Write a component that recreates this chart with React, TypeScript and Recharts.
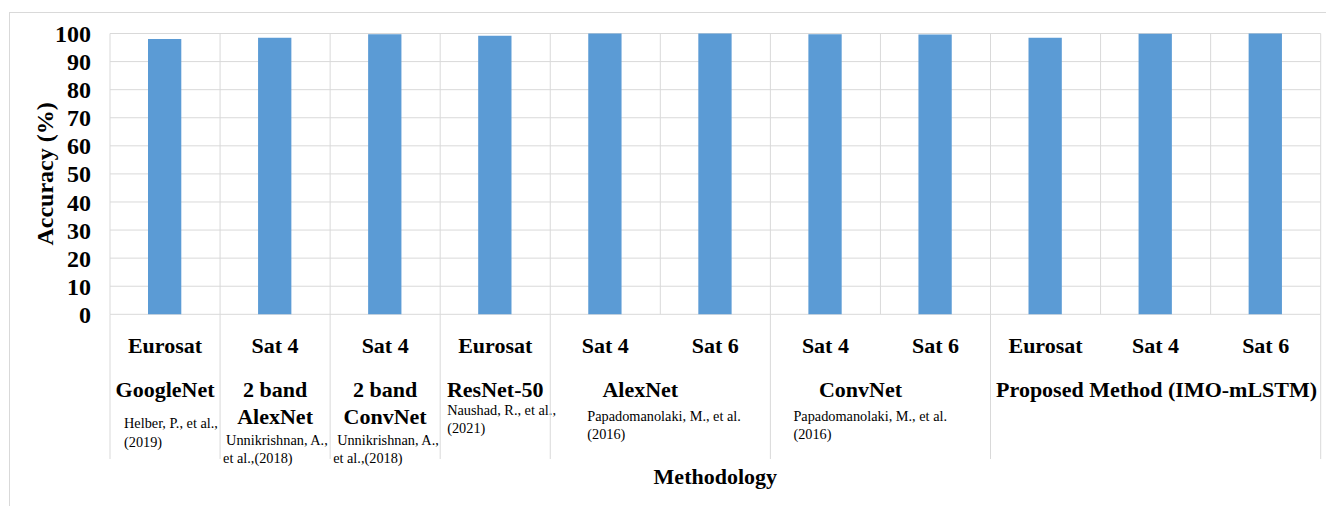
import React from 'react';
import { BarChart, Bar, XAxis, YAxis, CartesianGrid } from 'recharts';

// ---------- data ----------
const categories = ['Eurosat', 'Sat 4', 'Sat 4', 'Eurosat', 'Sat 4', 'Sat 6', 'Sat 4', 'Sat 6', 'Eurosat', 'Sat 4', 'Sat 6'];
const accuracy = [98.0, 98.5, 99.7, 99.2, 99.97, 99.98, 99.7, 99.6, 98.5, 99.95, 99.96];
const groupNames = [
  ['GoogleNet'],
  ['2 band', 'AlexNet'],
  ['2 band', 'ConvNet'],
  ['ResNet-50'],
  ['AlexNet'],
  ['ConvNet'],
  ['Proposed Method (IMO-mLSTM)'],
];
const groupSpans = [1, 1, 1, 1, 2, 2, 3];
const citations = [
  ['Helber, P.,  et al.,', '(2019)'],
  ['Unnikrishnan, A.,', 'et al.,(2018)'],
  ['Unnikrishnan, A.,', 'et al.,(2018)'],
  ['Naushad, R., et al.,', '(2021)'],
  ['Papadomanolaki, M., et al.', '(2016)'],
  ['Papadomanolaki, M., et al.', '(2016)'],
  [],
];
const yTicks = [0, 10, 20, 30, 40, 50, 60, 70, 80, 90, 100];

// ---------- layout / style ----------
const W = 1326;
const H = 506;
const M_TOP = 33.5;
const M_RIGHT = 5.3;
const Y_W = 110;
const X_H = 191.7;
const PLOT_W = W - Y_W - M_RIGHT;
const BW = PLOT_W / categories.length;
const FONT = '"Liberation Serif", "Times New Roman", serif';
const GRID = '#d9d9d9';

const nameDx = [0, 0, 0, 0, -20, -20, 1];
const nameBase = [82.4, 109.7];
const citeX = [[14, 14], [6, 3], [7, 3], [7, 7], [37, 37], [23, 23], []];
const citeBase = [[114, 132.4], [130.7, 148.4], [130.7, 148.4], [100.7, 119], [106.4, 125], [106.4, 125], []];
const SEP_H = 144.7;

const data = categories.map((c, i) => ({ key: String(i), category: c, accuracy: accuracy[i] }));

const groupStart: number[] = [];
const groupOf: number[] = [];
{
  let s = 0;
  groupSpans.forEach((span, g) => {
    groupStart.push(s);
    for (let k = 0; k < span; k++) groupOf.push(g);
    s += span;
  });
}

function XTick(props: any) {
  const { x, y, payload } = props;
  const i = payload.index;
  const g = groupOf[i];
  const isFirst = groupStart[g] === i;
  const isLast = i === categories.length - 1;
  const left = x - BW / 2;
  const gCenter = left + (groupSpans[g] * BW) / 2;
  return (
    <g>
      <text x={x} y={y + 38.4} textAnchor="middle" fontFamily={FONT} fontWeight="bold" fontSize={22} fill="#000">
        {categories[i]}
      </text>
      {isFirst && (
        <g>
          <line x1={left} x2={left} y1={y} y2={y + SEP_H} stroke={GRID} strokeWidth={1} />
          {groupNames[g].map((t, k) => (
            <text key={'n' + k} x={gCenter + nameDx[g]} y={y + nameBase[k]} textAnchor="middle" fontFamily={FONT} fontWeight="bold" fontSize={22} fill="#000">
              {t}
            </text>
          ))}
          {citations[g].map((t, k) => (
            <text key={'c' + k} x={left + citeX[g][k]} y={y + citeBase[g][k]} textAnchor="start" fontFamily={FONT} fontSize={14.3} fill="#000">
              {t}
            </text>
          ))}
        </g>
      )}
      {isLast && <line x1={x + BW / 2} x2={x + BW / 2} y1={y} y2={y + SEP_H} stroke={GRID} strokeWidth={1} />}
    </g>
  );
}

function YTitle(props: any) {
  const vb = props.viewBox || { x: 0, y: M_TOP, width: Y_W, height: 280 };
  const cx = 45;
  const cy = vb.y + vb.height / 2;
  return (
    <text x={cx} y={cy} transform={`rotate(-90, ${cx}, ${cy})`} textAnchor="middle" dominantBaseline="central" fontFamily={FONT} fontWeight="bold" fontSize={24} fill="#000">
      Accuracy (%)
    </text>
  );
}

function XTitle(props: any) {
  const vb = props.viewBox || { x: Y_W, y: 314, width: PLOT_W, height: X_H };
  return (
    <text x={vb.x + vb.width / 2} y={vb.y + 170} textAnchor="middle" fontFamily={FONT} fontWeight="bold" fontSize={22} fill="#000">
      Methodology
    </text>
  );
}

export default function App() {
  return (
    <div style={{ position: 'absolute', left: 0, top: 0, width: W, height: H, overflow: 'hidden', background: '#fff' }}>
      <div style={{ position: 'absolute', left: 9, top: 12, width: 1400, height: 600, borderLeft: `1px solid ${GRID}`, borderTop: `1px solid ${GRID}` }} />
      <div style={{ position: 'absolute', left: 0, top: 0 }}>
        <BarChart width={W} height={H} data={data} margin={{ top: M_TOP, right: M_RIGHT, bottom: 0, left: 0 }} barCategoryGap={0}>
          <CartesianGrid
            stroke={GRID}
            strokeWidth={1}
            vertical={true}
            horizontal={true}
            verticalCoordinatesGenerator={({ offset }: any) =>
              Array.from({ length: categories.length + 1 }, (_, k) => offset.left + (k * offset.width) / categories.length)
            }
          />
          <XAxis
            dataKey="key"
            type="category"
            interval={0}
            height={X_H}
            tickLine={false}
            axisLine={false}
            tickSize={0}
            tickMargin={0}
            tick={<XTick />}
            label={<XTitle />}
          />
          <YAxis
            domain={[0, 100]}
            ticks={yTicks}
            interval={0}
            width={Y_W}
            tickLine={false}
            axisLine={false}
            tickSize={0}
            tickMargin={19}
            tick={{ fontFamily: FONT, fontWeight: 'bold', fontSize: 24, fill: '#000' }}
            label={<YTitle />}
          />
          <Bar dataKey="accuracy" fill="#5b9bd5" barSize={33.3} isAnimationActive={false} />
        </BarChart>
      </div>
    </div>
  );
}
